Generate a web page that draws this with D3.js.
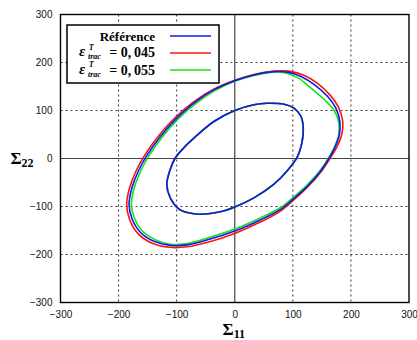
<!DOCTYPE html>
<html><head><meta charset="utf-8">
<script src="https://cdn.jsdelivr.net/npm/d3@7"></script>
<style>body{margin:0;background:#fff}svg{display:block}</style>
</head><body>
<svg id="c" width="417" height="340"></svg>
<script>
const xTicks = [-300,-200,-100,0,100,200,300];
const yTicks = [-300,-200,-100,0,100,200,300];
const seriesNames = ["Référence","0,\u2009045","0,\u2009055"];
const seriesColors = ["#0a1ee6","#ff1010","#18e018"];
// outer loops [x, y], clockwise from upper-left
const refOuter = [[-71,115],[-36,143],[0,162],[33,174],[67,181],[91,180],[114,171],[137,154],[160,129],[174,105],[181,77],[180,49],[172,22],[162,0],[148,-26],[125,-58],[101,-84],[79,-106],[44,-128],[0,-151],[-48,-170],[-82,-180],[-111,-181],[-140,-172],[-163,-153],[-177,-125],[-182,-96],[-177,-61],[-166,-26],[-152,5],[-128,46],[-100,84]];
const red045Outer = [[-73,116],[-37,144],[0,163],[33,175],[68,182],[93,182],[118,174],[142,157],[165,131],[179,106],[186,77],[184,49],[175,22],[164,0],[149,-27],[125,-60],[101,-87],[78,-110],[43,-133],[0,-156],[-48,-175],[-82,-184],[-112,-185],[-143,-176],[-167,-156],[-181,-127],[-186,-96],[-181,-61],[-170,-26],[-156,5],[-132,46],[-103,85]];
const green055Outer = [[-69,113],[-35,141],[0,161],[33,173],[66,180],[88,178],[109,168],[130,148],[153,124],[170,102],[179,76],[179,49],[171,22],[161,0],[147,-25],[124,-56],[100,-82],[79,-102],[44,-124],[0,-147],[-48,-166],[-82,-177],[-110,-179],[-137,-169],[-160,-150],[-173,-123],[-178,-96],[-173,-61],[-162,-26],[-148,5],[-124,46],[-97,83]];
// inner loop (same for all series)
const innerLoop = [[0,100],[33,112],[56,115],[85,113],[102,105],[114,88],[118,63],[116,35],[108,4],[90,-26],[67,-54],[33,-82],[0,-101],[-25,-111],[-59,-116],[-94,-107],[-111,-82],[-117,-54],[-112,-26],[-103,0],[-88,22],[-68,45],[-36,77]];

const svg = d3.select("#c");
const L=60.5, R=409, T=14.5, B=302.5;
const x = d3.scaleLinear().domain([-300,300]).range([L,R]);
const y = d3.scaleLinear().domain([-300,300]).range([B,T]);

// grid
const g = svg.append("g");
g.selectAll("line.gx").data(xTicks.filter(d=>d!==0&&Math.abs(d)<300)).join("line")
 .attr("x1",d=>x(d)).attr("x2",d=>x(d)).attr("y1",T).attr("y2",B)
 .attr("stroke","#333").attr("stroke-width",1).attr("stroke-dasharray","2,3");
g.selectAll("line.gy").data(yTicks.filter(d=>d!==0&&Math.abs(d)<300)).join("line")
 .attr("y1",d=>y(d)).attr("y2",d=>y(d)).attr("x1",L).attr("x2",R)
 .attr("stroke","#333").attr("stroke-width",1).attr("stroke-dasharray","2,3");
g.append("line").attr("x1",x(0)).attr("x2",x(0)).attr("y1",T).attr("y2",B).attr("stroke","#444").attr("stroke-width",1.2);
g.append("line").attr("y1",y(0)).attr("y2",y(0)).attr("x1",L).attr("x2",R).attr("stroke","#444").attr("stroke-width",1.2);

// tick labels via d3 axes
const xa = svg.append("g").attr("transform",`translate(0,${B})`)
 .call(d3.axisBottom(x).tickValues(xTicks).tickSize(0).tickPadding(8));
const ya = svg.append("g").attr("transform",`translate(${L},0)`)
 .call(d3.axisLeft(y).tickValues(yTicks).tickSize(0).tickPadding(8));
[xa,ya].forEach(a=>{a.select(".domain").remove();
 a.selectAll("text").attr("font-family","Liberation Sans, Arial, sans-serif").attr("font-size",10).attr("fill","#111");});

// curves
const line = d3.line().x(d=>x(d[0])).y(d=>y(d[1])).curve(d3.curveCatmullRomClosed.alpha(0.5));
[[red045Outer,1],[green055Outer,2],[refOuter,0]].forEach(([data,i])=>{
  svg.append("path").attr("d",line(data)).attr("fill","none").attr("stroke",seriesColors[i]).attr("stroke-width",1.6);
});
[1,2,0].forEach(i=>{
  svg.append("path").attr("d",line(innerLoop)).attr("fill","none").attr("stroke",seriesColors[i]).attr("stroke-width",1.6);
});

// frame
svg.append("rect").attr("x",L).attr("y",T).attr("width",R-L).attr("height",B-T).attr("fill","none").attr("stroke","#000").attr("stroke-width",1.4);

// legend
const lg = svg.append("g");
lg.append("rect").attr("x",67).attr("y",25).attr("width",152).attr("height",58).attr("fill","#fff").attr("stroke","#000").attr("stroke-width",1.5);
const rows=[36,53,70];
const base=[41,57,74.5];
const serif="Liberation Serif, DejaVu Serif, serif";
lg.append("text").attr("x",155).attr("y",base[0]).attr("text-anchor","end")
 .attr("font-family",serif).attr("font-weight","bold").attr("font-size",13).text(seriesNames[0]);
[1,2].forEach(i=>{
  lg.append("text").attr("x",79).attr("y",base[i]-1).attr("font-family",serif).attr("font-weight","bold")
    .attr("font-style","italic").attr("font-size",15).text("ε");
  lg.append("text").attr("x",89).attr("y",base[i]-7.5).attr("font-family",serif).attr("font-weight","bold")
    .attr("font-style","italic").attr("font-size",7.5).text("T");
  lg.append("text").attr("x",88).attr("y",base[i]+2).attr("font-family",serif).attr("font-weight","bold")
    .attr("font-style","italic").attr("font-size",8).text("trac");
  lg.append("text").attr("x",155).attr("y",base[i]).attr("text-anchor","end").attr("font-family",serif)
    .attr("font-weight","bold").attr("font-size",14).text("= " + seriesNames[i]);
});
[0,1,2].forEach(i=>{
  lg.append("line").attr("x1",170).attr("x2",211).attr("y1",rows[i]).attr("y2",rows[i])
   .attr("stroke",seriesColors[i]).attr("stroke-width",1.6);
});

// axis titles
const xt = svg.append("text").attr("x",x(0)-1).attr("y",335).attr("text-anchor","middle")
 .attr("font-family",serif).attr("font-weight","bold").attr("font-size",17);
xt.append("tspan").text("Σ");
xt.append("tspan").attr("font-size",12).attr("dy",3).text("11");
const yt = svg.append("text").attr("x",22).attr("y",y(0)+5).attr("text-anchor","middle")
 .attr("font-family",serif).attr("font-weight","bold").attr("font-size",17);
yt.append("tspan").text("Σ");
yt.append("tspan").attr("font-size",12).attr("dy",3).text("22");
</script>
</body></html>
